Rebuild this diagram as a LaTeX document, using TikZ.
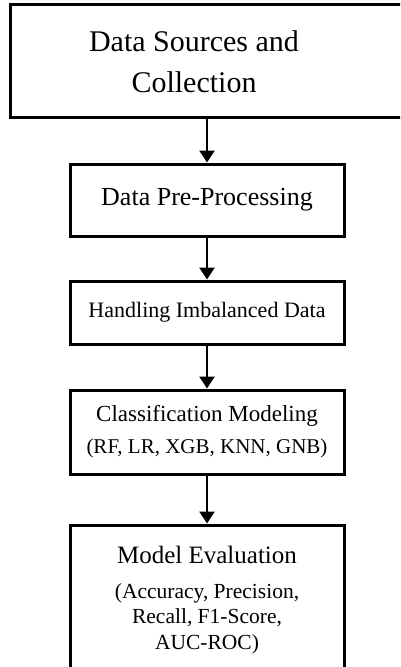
\documentclass[tikz,border=0pt]{standalone}
\usepackage{fontspec}
\setmainfont{Liberation Serif}
\usetikzlibrary{arrows.meta,positioning}

\begin{document}
\begin{tikzpicture}[
    x=1pt, y=-1pt,
    stage/.style={rectangle, draw, line width=3pt, minimum width=274pt, inner sep=0pt, align=center},
    flow/.style={-{Triangle[width=15pt,length=12pt]}, line width=2.5pt},
]
\useasboundingbox (0,0) rectangle (400,667);
\clip (0,0) rectangle (400,667);

% Stages
\node[stage, minimum width=394pt, minimum height=113pt] (src) at (207,60.5) {};
\node[align=center, font=\fontsize{30}{41}\selectfont] (srctext) at (194,62) {Data Sources and\\Collection};

\node[stage, minimum height=72pt, font=\fontsize{26}{30}\selectfont] (prep) at (207,200) {Data Pre-Processing};
\node[stage, minimum height=63pt, font=\fontsize{22}{26}\selectfont] (imbal) at (207,312.5) {Handling Imbalanced Data};
\node[stage, minimum height=84pt, font=\fontsize{23}{32}\selectfont] (clf) at (207,432) {Classification Modeling\\{\fontsize{21}{32}\selectfont (RF, LR, XGB, KNN, GNB)}};

\node[stage, minimum height=175pt] (eval) at (207,612.5) {};
\node[font=\fontsize{25}{30}\selectfont] (evaltitle) at (207,555) {Model Evaluation};
\node[align=center, font=\fontsize{21.5}{25.5}\selectfont] (evalmetrics) at (207,618.5) {(Accuracy, Precision,\\Recall, F1-Score,\\AUC-ROC)};

% Arrows
\draw[flow] (src.south) -- (prep.north);
\draw[flow] (prep.south) -- (imbal.north);
\draw[flow] (imbal.south) -- (clf.north);
\draw[flow] (clf.south) -- (eval.north);

\end{tikzpicture}
\end{document}
